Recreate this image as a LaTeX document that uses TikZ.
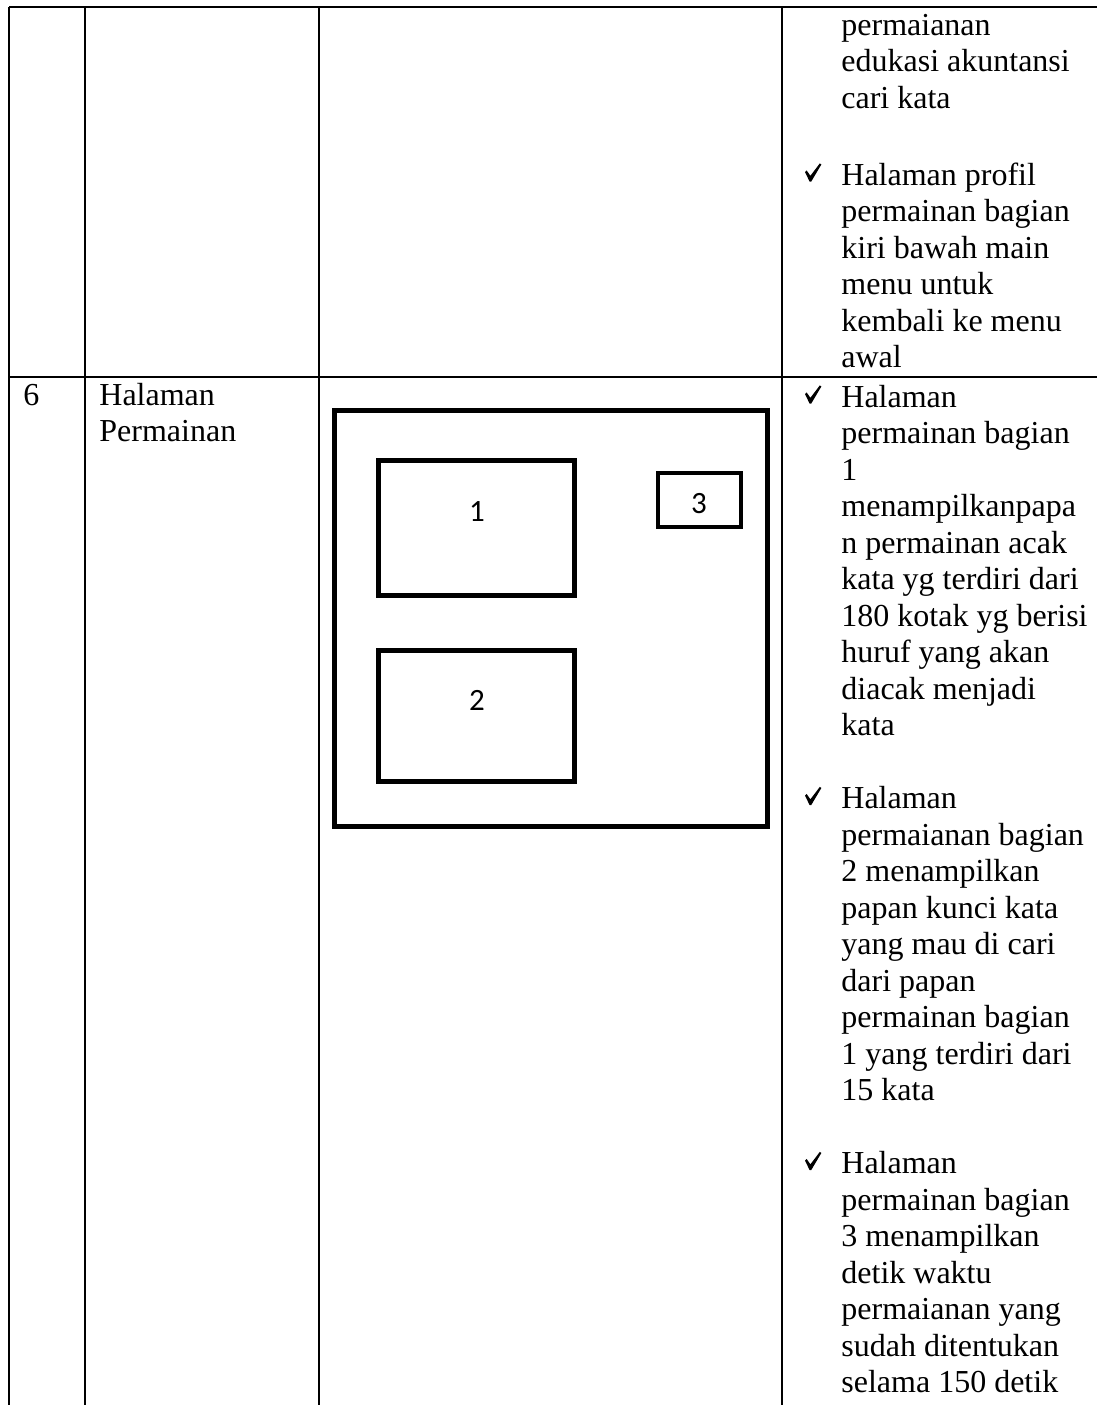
\documentclass[tikz,border=0pt]{standalone}
\usepackage{fontspec}
\setmainfont{Liberation Serif}
\newfontfamily\calfont{Carlito}
\tikzset{
  tline/.style={line width=1pt},
  mock/.style={line width=2.5pt},
  mocksmall/.style={line width=2.2pt},
  txt/.style={anchor=base west, inner sep=0pt, font=\fontsize{16}{18}\selectfont},
  num/.style={anchor=base, inner sep=0pt, font=\calfont\fontsize{15.5}{17}\selectfont},
  tick/.pic={\fill[black] (0,-13) -- (1.6,-14.6) -- (5.4,-9.2) -- (14.8,-21.6) -- (16.4,-20.6)
     -- (6.2,-3.4) -- (4.6,-3.4) -- cycle;},
}
\begin{document}
\begin{tikzpicture}[x=0.5pt,y=-0.5pt]
\useasboundingbox (0,0) rectangle (1097,1405);
\fill[white] (0,0) rectangle (1097,1405);
% table grid
\draw[tline] (9,7) -- (1097,7);
\draw[tline] (9,377) -- (1097,377);
\foreach \x in {9,85,319,782} \draw[tline] (\x,7) -- (\x,1405);
% left column
\node[txt] (n6) at (23,405) {6};
\node[txt] (h1) at (99,405) {Halaman};
\node[txt] (h2) at (99,441.5) {Permainan};
% mockup
\draw[mock] (334,410) rectangle (767,826);
\draw[mock] (378,460) rectangle (574,595);
\draw[mock] (378,650) rectangle (574,781);
\draw[mocksmall] (658,473) rectangle (741,527);
\node[num] (m1) at (477,521) {1};
\node[num] (m2) at (477,710) {2};
\node[num] (m3) at (699,513) {3};
% top continuation
\foreach \y/\t [count=\i] in {35/permaianan, 71.5/edukasi akuntansi, 108/cari kata,
  185/Halaman profil, 221.5/permainan bagian, 258/kiri bawah main, 294.5/menu untuk,
  331/kembali ke menu, 367.5/awal}
  \node[txt] (t\i) at (841,\y) {\t};
\pic at (805,185) {tick};
% row 6 text
\foreach \k/\t in {0/Halaman, 1/permainan bagian, 2/1, 3/menampilkanpapa,
  4/n permainan acak, 5/kata yg terdiri dari, 6/180 kotak yg berisi, 7/huruf yang akan,
  8/diacak menjadi, 9/kata,
  11/Halaman, 12/permaianan bagian, 13/2 menampilkan, 14/papan kunci kata,
  15/yang mau di cari, 16/dari papan, 17/permainan bagian, 18/1 yang terdiri dari,
  19/15 kata,
  21/Halaman, 22/permainan bagian, 23/3 menampilkan, 24/detik waktu,
  25/permaianan yang, 26/sudah ditentukan, 27/selama 150 detik}
  \node[txt] (r\k) at (841,407+36.5*\k) {\t};
\foreach \k in {0,11,21}
  \pic at (805,407+36.5*\k) {tick};
\end{tikzpicture}
\end{document}
